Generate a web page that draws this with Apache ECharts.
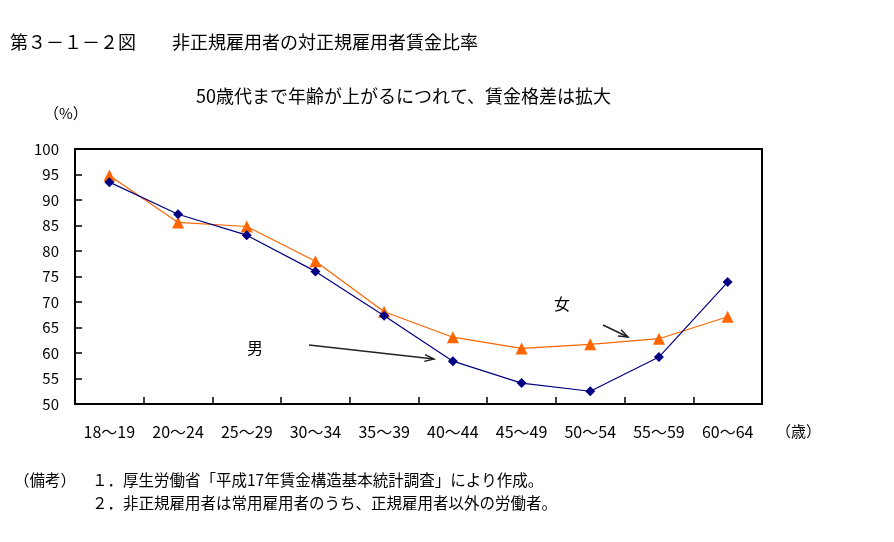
<!DOCTYPE html>
<html>
<head>
<meta charset="utf-8">
<script src="https://cdn.jsdelivr.net/npm/echarts@6/dist/echarts.min.js"></script>
<style>
html,body{margin:0;padding:0;background:#fff;}
#chart{width:894px;height:542px;}
</style>
</head>
<body>
<div id="chart"></div>
<script>
const categories = ['18～19','20～24','25～29','30～34','35～39','40～44','45～49','50～54','55～59','60～64'];
const menValues = [93.5, 87.2, 83.1, 76.0, 67.3, 58.4, 54.1, 52.5, 59.2, 73.9];
const womenValues = [94.8, 85.6, 84.8, 78.0, 68.1, 63.1, 60.9, 61.7, 62.8, 67.1];
const yTicks = {min: 50, max: 100, interval: 5};

const FONT = '"Noto Sans CJK JP", sans-serif';
const chart = echarts.init(document.getElementById('chart'), null, {renderer: 'canvas'});

function arrow(x1, y1, x2, y2, headLen) {
  const ang = Math.atan2(y2 - y1, x2 - x1);
  const a1 = ang + Math.PI - 0.35, a2 = ang + Math.PI + 0.35;
  return [
    {type: 'line', shape: {x1, y1, x2, y2}, style: {stroke: '#222', lineWidth: 1.5}},
    {type: 'polyline', shape: {points: [
      [x2 + headLen * Math.cos(a1), y2 + headLen * Math.sin(a1)],
      [x2, y2],
      [x2 + headLen * Math.cos(a2), y2 + headLen * Math.sin(a2)]
    ]}, style: {stroke: '#222', lineWidth: 1.5, fill: null}}
  ];
}

const option = {
  backgroundColor: '#fff',
  animation: false,
  textStyle: {fontFamily: FONT},
  grid: {left: 75, right: 132, top: 149, bottom: 138, show: true, borderColor: '#000', borderWidth: 2, backgroundColor: 'transparent'},
  xAxis: {
    type: 'category',
    data: categories,
    boundaryGap: true,
    axisLine: {show: true, lineStyle: {color: '#000', width: 2}},
    axisTick: {show: true, inside: true, alignWithLabel: false, interval: 0, length: 7, lineStyle: {color: '#000', width: 1.5}},
    axisLabel: {color: '#000', fontSize: 16, margin: 20, fontFamily: FONT, interval: 0},
    splitLine: {show: false},
    z: 5
  },
  yAxis: {
    type: 'value',
    min: yTicks.min, max: yTicks.max, interval: yTicks.interval,
    axisLine: {show: true, lineStyle: {color: '#000', width: 2}},
    axisTick: {show: true, inside: true, length: 7, lineStyle: {color: '#000', width: 1.5}},
    axisLabel: {color: '#000', fontSize: 15, margin: 16, fontFamily: FONT},
    splitLine: {show: false},
    z: 5
  },
  series: [
    {
      name: '男', type: 'line', data: menValues,
      symbol: 'diamond', symbolSize: 10,
      itemStyle: {color: '#000080'},
      lineStyle: {color: '#000080', width: 1.2},
      z: 3
    },
    {
      name: '女', type: 'line', data: womenValues,
      symbol: 'triangle', symbolSize: 12,
      itemStyle: {color: '#FF6600'},
      lineStyle: {color: '#FF6600', width: 1.2},
      z: 2
    }
  ],
  graphic: [
    {type: 'text', left: 10, top: 33, style: {text: '第３－１－２図', fontSize: 18, fontFamily: FONT, fill: '#000'}},
    {type: 'text', left: 172, top: 33, style: {text: '非正規雇用者の対正規雇用者賃金比率', fontSize: 18, fontFamily: FONT, fill: '#000'}},
    {type: 'text', left: 196, top: 87, style: {text: '50歳代まで年齢が上がるにつれて、賃金格差は拡大', fontSize: 18, fontFamily: FONT, fill: '#000'}},
    {type: 'text', left: 44, top: 106, style: {text: '（%）', fontSize: 15, fontFamily: FONT, fill: '#000'}},
    {type: 'text', left: 776, top: 424, style: {text: '（歳）', fontSize: 15, fontFamily: FONT, fill: '#000'}},
    {type: 'text', left: 247, top: 340, style: {text: '男', fontSize: 16, fontFamily: FONT, fill: '#000'}},
    {type: 'text', left: 554, top: 296, style: {text: '女', fontSize: 16, fontFamily: FONT, fill: '#000'}},
    ...arrow(309, 345, 434, 359, 10),
    ...arrow(603, 325, 628, 337, 10),
    {type: 'text', left: 14, top: 472, style: {text: '（備考）', fontSize: 15.5, fontFamily: FONT, fill: '#000'}},
    {type: 'text', left: 92, top: 472, style: {text: '１．厚生労働省「平成17年賃金構造基本統計調査」により作成。', fontSize: 15.5, fontFamily: FONT, fill: '#000'}},
    {type: 'text', left: 92, top: 495, style: {text: '２．非正規雇用者は常用雇用者のうち、正規雇用者以外の労働者。', fontSize: 15.5, fontFamily: FONT, fill: '#000'}}
  ]
};
chart.setOption(option);
</script>
</body>
</html>
